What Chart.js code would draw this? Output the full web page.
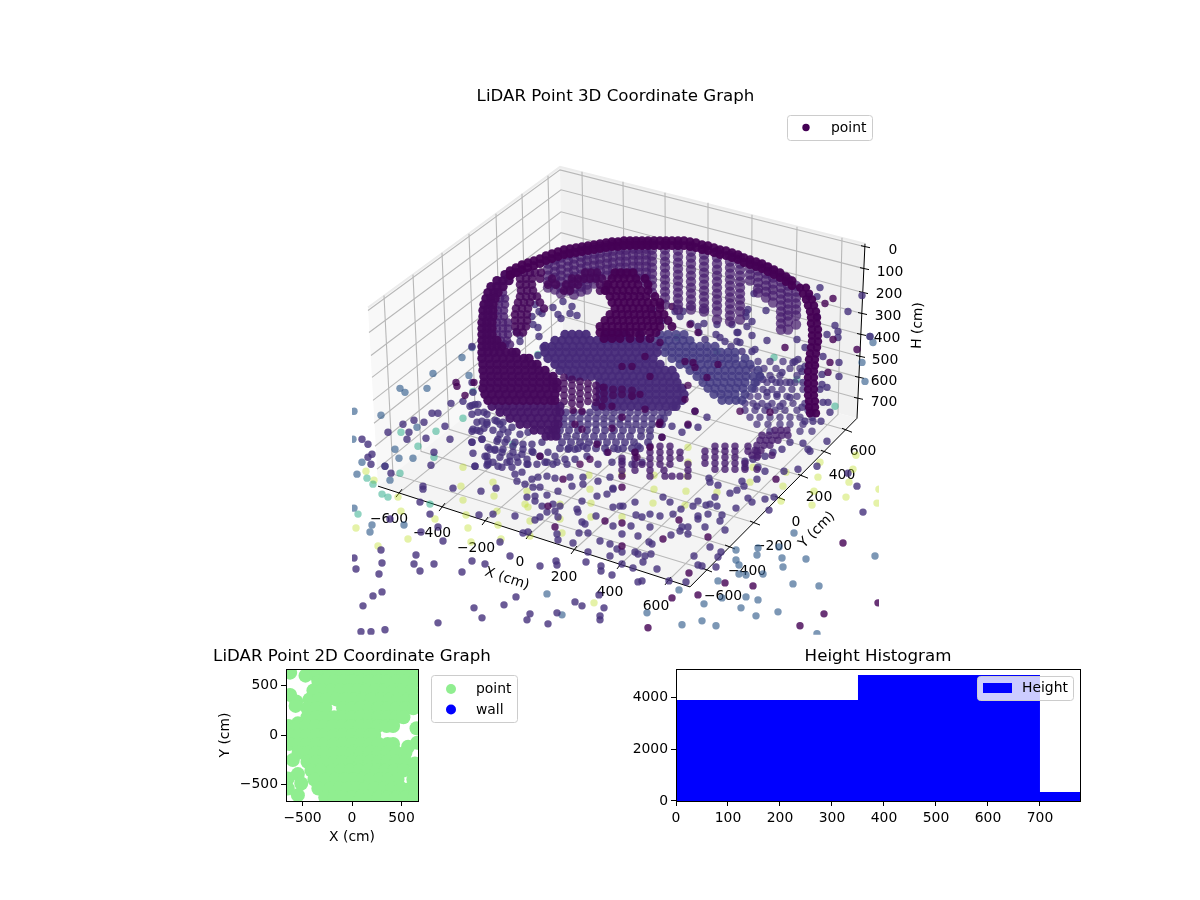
<!DOCTYPE html>
<html>
<head>
<meta charset="utf-8">
<title>LiDAR Point Graphs</title>
<script src="https://cdn.jsdelivr.net/npm/chart.js@4/dist/chart.umd.min.js"></script>
<style>
body{margin:0;background:#fff}
canvas{position:absolute}
#c3d{left:0;top:0}
#c2d{left:182px;top:640px}
#chist{left:630px;top:640px}
</style>
</head>
<body>
<canvas id="c3d" width="1200" height="640"></canvas>
<canvas id="c2d" width="340" height="211"></canvas>
<canvas id="chist" width="496" height="211"></canvas>
<script>
// ---------- values ----------
// 3D panel: points read in the projected plane of the view, flat lists x,y,x,y...
const paleOuter=[378,547,408,540,356,529,366,472,374,481,398,498,401,512,435,520,468,529,471,543,501,540,498,526,466,516,497,512,463,501,494,497,461,487,493,483,463,468,525,505,528,508,530,522,530,537,560,505,562,534,560,520,591,504,591,518,590,490,589,476,594,604,527,492,856,456,853,470,849,483,846,498,877,504,879,490,814,492,818,478,820,463,812,506,781,502,783,487,786,473,750,483,753,468,717,493,686,492,685,506,653,504,687,477,688,463,688,448,654,476,654,490,622,518,622,475];
const tealOuter=[401,433,436,432,418,447,434,458,463,419,400,474,367,479,373,485,382,495,388,498,358,515,430,505,513,445,835,407,774,358,797,380,677,338,717,352,473,392,538,355];
const blueOuter=[354,412,381,416,353,440,354,509,404,526,370,533,372,526,395,450,413,459,399,459,417,428,385,467,390,481,362,463,357,475,547,595,562,616,400,389,405,393,427,389,433,374,469,376,462,358,472,348,865,382,862,363,870,337,873,343,875,557,806,560,793,585,819,587,778,613,756,617,741,609,746,598,758,601,718,582,722,599,704,605,679,591,647,614,682,626,702,622,716,627,817,635,736,551,758,549,757,556,736,561,739,575,746,576,763,575,783,568,782,559,779,548,794,534,739,566];
const floorMid=[354,559,356,570,379,575,382,564,381,551,414,565,416,556,420,572,434,565,462,573,472,562,485,565,500,543,510,557,540,567,556,562,557,566,586,563,601,567,601,572,516,598,504,606,474,609,482,619,438,624,382,593,373,597,363,607,385,631,371,633,361,633,527,621,530,615,557,614,548,625,575,603,582,607,604,609,600,617,600,621,599,596,362,440,368,445,372,455,368,458,371,465,385,467,391,474,407,440,388,433,409,433,403,425,414,421,424,423,432,414,438,414,451,404,445,427,426,439,450,440,434,453,431,466,423,487,423,490,453,489,481,492,496,489,420,503,430,515,390,520,421,533,438,528,443,542,479,516,493,515,515,517,523,534,528,533,463,402,472,406,478,405,484,413,472,415,477,423,487,423,495,421,503,423,512,428,472,432,477,431,484,429,493,431,500,435,507,440,482,440,472,443,497,442,513,447,523,450,533,453,490,450,495,451,502,453,510,457,473,454,485,457,517,458,527,460,540,457,547,463,557,463,567,465,488,462,493,463,502,468,507,463,512,468,475,467,487,466,515,475,522,473,528,465,532,480,538,478,547,477,555,479,570,478,583,478,517,482,525,485,533,488,540,488,558,492,572,487,583,485,598,482,610,478,535,497,527,498,547,496,535,502,553,505,560,507,542,507,597,497,607,495,582,502,613,490,540,518,547,513,555,512,535,521,558,518,577,510,578,513,582,523,585,525,596,517,613,508,620,507,613,527,557,535,558,541,573,544,579,534,588,534,588,553,600,542,610,545,617,550,695,412,707,418,698,428,688,426,682,433,672,427,662,438,769,511,774,498,765,500,752,503,748,499,736,509,717,507,715,498,710,505,706,506,698,502,693,507,681,510,670,503,663,498,673,515,660,517,650,515,642,518,636,516,635,503,623,507,613,489,631,527,650,528,638,537,622,535,671,536,682,528,688,528,680,532,688,535,698,517,708,515,698,520,722,516,720,522,725,531,705,528,710,548,694,557,721,553,718,558,698,566,702,567,716,568,686,583,669,582,657,570,651,555,645,557,643,563,638,555,635,553,622,553,622,565,633,569,638,583,642,582,649,543,652,545,612,576,610,557,742,482,744,487,737,491,730,494,718,486,710,483,709,479,757,480,765,472,758,468,745,468,798,470,784,472,803,444,817,467,810,452,808,450,827,442,821,422,830,413,813,422,805,422,790,443,782,450,773,453,765,457,753,460,745,462,863,513,857,487,848,474,820,288,809,297,817,297,862,296,848,312,817,317,835,326,827,335,838,332,838,338,870,337,823,357,839,363,839,377,822,375,822,385,827,388,828,403,823,403,820,390,754,294,766,311,752,322,746,313,737,333,752,336,767,341,720,338,725,342,737,342,731,347,752,352,755,350,742,352,798,360,805,348,797,340,802,372,805,367,793,363,782,373,803,383,790,383,780,383,772,380,763,380,767,393,777,395,790,398,802,408,812,413,780,407,768,407,757,407,748,310,746,317,747,327,738,333,740,343,732,325,717,325,716,335,704,324,691,324,698,327,699,333,680,317,662,321,653,310,675,312,683,312,705,340,516,332,535,305,539,312,542,314,553,308,558,315,561,319,532,317,533,325,538,328,539,337,570,314,577,316,563,302,572,307,543,348,538,356,472,347,520,336,520,342];
const nearFront=[475,405,470,407,478,413,487,415,482,422,497,422,500,425,487,425,473,430,480,432,503,430,508,433,520,435,528,433,498,440,515,443,523,445,532,445,542,443,505,443,482,440,488,448,472,443,495,450,503,450,513,453,522,455,532,452,548,453,555,457,487,457,500,458,510,462,518,463,527,465,537,465,545,463,553,465,488,465,498,467,475,467,568,450,575,450,583,447,565,460,575,460,587,457,598,465,612,463,622,462,632,465,642,463,607,453,618,450,638,447,472,383,473,393];
const rightCloudRows=[[362,758,770,783,795],[369,752,764,776,790,800],[376,760,770,780,797],[383,757,767,776,786,795],[390,755,763,772,782,792,803],[397,750,758,767,777,787,797],[404,745,753,762,772,783,793,805],[411,745,755,765,775,785,797,808],[418,750,760,770,780,790,800,812],[425,757,768,780,790,803],[432,770,800,812]];
const floorDark=[456,383,457,387,465,396,474,383,660,425,622,488,622,477,622,524,663,540,679,521,708,538,622,547,689,574,776,480,725,584,753,587,698,596,672,599,648,629,824,615,800,627,878,604,843,544,833,299,825,304,833,340,857,350,830,363,828,373,785,348,660,306,672,307,555,528,605,522,563,480,548,507];
const floorClusters=[[431,775,781,787],[436,762,769,776,782,788],[441,760,766,772,778],[446,757,764,770],[451,755,761],[456,752,758,772],[447,650,660,670,715,725,735,748],[452,705,715,725,735,748,757],[453,635,650,660,670,680],[458,705,715,725,735,757],[459,622,635,650,660,670,680],[464,705,715,725,735,745],[465,622,635,642,650,660,670,688],[470,715,725,735,745,757],[471,622,635,650,664,688],[477,650,665,672,680,688]];
const bowlRows=[[335,565,572,579,586,605,612,619,626,640],[341,555,562,569,576,583,590,597,604,611,618,625,632,639,646],[347,545,552,559,566,573,580,587,594,601,608,615,622,629,636,643,650,657],[353,545,552,559,566,573,580,587,594,601,608,615,622,629,636,643,650,657],[359,548,555,562,569,576,583,590,597,604,611,618,625,632,639,646,653],[365,555,562,569,576,583,590,597,604,611,618,625,632,639,646,653,660],[371,560,567,574,581,588,595,602,609,616,623,630,637,644,651,658,665,672],[377,570,577,584,591,598,605,612,619,626,633,640,647,654,661,668,675],[383,600,607,614,621,628,635,642,649,656,663,670,677],[389,600,607,614,621,628,635,642,649,656,663,670,677,682],[395,600,607,614,621,628,635,642,649,656,663,670,677,684],[401,600,607,614,621,628,635,642,649,656,663,670,677,682],[407,596,603,610,617,624,631,638,645,652,659,666,673,676]];
const bowlLowRows=[[413,566,574,582,590,598,606,614,622,630,638,646,654,662,668],[419,564,572,580,588,596,604,612,620,628,636,644,652,660,664],[425,564,572,580,588,596,604,612,620,628,636,644,652,662],[431,560,569,578,587,596,605,614,623,632,641,650],[437,558,567,576,585,594,603,612,621,630,641,650],[443,562,571,580,589,598,607,616,625,634,648],[449,560,569,578,587,596,605,614,623,632,640]];
const wedgeRows=[[335,660,668,676,684],[341,655,662,669,676,683,690],[347,665,672,679,686,693,700,707,715],[353,665,672,679,686,693,700,707,714,721,728,735],[359,672,679,686,693,700,707,714,721,728,735,745],[365,680,687,694,701,708,715,722,729,736,743,750],[371,690,697,704,711,718,725,732,739,746,758],[377,697,704,711,718,725,732,739,746,753,760],[383,703,710,717,724,731,738,745,755],[389,708,715,722,729,736,743,752],[395,714,721,728,735,745],[401,722,729,736,742]];
const backWallCols=[[548,264,270,276,282,288],[555,260,266,272,278,284,290],[561,258,264,270,276,282,288,294],[568,255,261,267,273,279,285,291],[574,253,259,265,271,277,283,289,295],[581,251,257,263,269,275,281,287,292],[587,249,255,261,267,273,279,285,290],[594,248,254,260,266,272,278,284],[600,247,253,259,265,271,277],[607,246,252,258,264,270,276],[613,245,251,257,263,269,275],[620,244,250,256,262,268,274],[626,244,250,256,262,268,274],[633,243,249,255,261,267,273],[639,243,249,255,261,267,273,279],[646,243,249,255,261,267,273,279,285],[652,244,250,256,262,268,274,280,286,293],[665,244,250,256,262,268,274,280,286,292,298,305],[678,245,251,257,263,269,275,281,287,293,299,305,310],[691,246,252,258,264,270,276,282,288,294,300,306,310],[704,249,255,261,267,273,279,285,291,297,303,309,312],[717,252,258,264,270,276,282,288,294,300,306,312,320],[730,256,262,268,274,280,286,292,298,304,310,316,322],[740,258,264,270,276,282,288,294,300,306,312,320],[750,263,269,275,281],[758,265,271,277,283,289,293],[766,268,274,280,286,292,298],[773,272,278,284,290,296,303],[781,276,282,288,294,300,306,312,318,324,330],[788,280,286,292,298,304,310,316,322,330],[796,286,292,298,304,310,316,325]];
const rimCols=[[510,271,276],[516,268,273],[522,265,270],[528,263,268],[534,261,266],[540,259,264],[546,256,261],[552,254,259],[558,252,257],[564,250,255],[570,249,254],[576,248,253],[582,247,252],[588,246,251],[594,245,250],[600,244,249],[606,243,248],[612,242,247],[618,242,247],[624,241,246],[630,241,246],[636,241,246],[642,241,246],[648,241,246],[654,241,246],[660,241,246],[666,241,246],[672,241,246],[678,241,246],[684,241,246],[690,242,247],[696,243,248],[702,245,250],[708,246,251],[714,248,253],[720,250,255],[726,251,256],[732,253,258],[738,255,260],[744,258,263],[750,260,265],[756,262,267],[762,264,269],[768,267,272],[774,270,275],[780,273,278],[786,277,282],[792,281,286]];
const rimRightRows=[[288,800,806],[294,803,809],[300,806,812],[306,808,814],[312,810,816],[318,811,817],[324,811,817],[330,812,818],[336,812,818],[342,812,818],[348,811,817],[354,810,816],[360,809,815],[366,809,815],[372,808,814],[378,808,814],[384,808,814],[390,808,814],[396,808,814],[402,809,815],[408,809,815],[414,810,816]];
const innerBandRows=[[293,503],[299,500,505],[305,499,505],[311,498,504],[317,498,504],[323,497,503,508],[329,497,503,508],[335,497,503,508],[341,501,507],[345,505,510]];
const frontWallRows=[[275,505,511],[281,497,503,509],[287,491,497,503],[293,488,494,498],[299,486,491,495],[305,484,489,493],[311,483,488,493],[317,483,488,493],[323,482,487,492],[329,482,487,492],[335,482,487,492],[341,482,487,492,497],[347,482,487,492,497,502],[353,482,488,494,500,506,512,516],[359,482,489,496,503,510,517,524,529],[365,483,490,497,504,511,518,525,532,537],[371,483,490,497,504,511,518,525,532,539,545],[377,484,491,498,505,512,519,526,533,540,547,553],[383,484,491,498,505,512,519,526,533,540,547,553,557],[389,483,490,497,504,511,518,525,532,539,546,553,557],[395,485,492,499,506,513,520,527,534,541,548,555],[401,488,495,502,509,516,523,530,537,544,551,555]];
const frontColumns=[[564,378,384,390,396,402],[572,380,386,392,398,404],[580,382,388,394,400,405],[588,384,390,396,402],[596,386,392,398,403],[604,388,394,400],[613,390,396],[622,390,395],[632,391,396]];
const frontLowRows=[[407,492,499,506,513,520,527,534,541,548,555,560],[413,500,507,514,521,528,535,542,549,556,560],[419,510,517,524,531,538,545,552,558],[425,520,527,534,541,548,555,558],[431,534,541,548,553,556],[437,546,551,556]];
const towerRows=[[273,615,621,627,633],[279,612,618,624,630,636,645],[285,608,614,620,626,632,638,648],[291,605,611,617,623,629,635,641,648],[297,610,616,622,628,634,640,646,655],[303,612,618,624,630,636,642,648,654,660],[309,615,621,627,633,639,645,651,660],[315,610,616,622,628,634,640,646,652,658,664],[321,605,611,617,623,629,635,641,647,653,659,668],[327,600,606,612,618,624,630,636,642,648,654,660,672],[333,600,606,612,618,624,630,636,642,650,656],[339,604,612,620,630,640,650]];
const pillarRows=[[273,518,524,530,535,541,585,591,597],[279,520,526,532,540,552,572,578,584,590,596,602],[285,520,526,532,548,556,566,572,578,600,606],[291,521,527,533,564,570,600,606],[297,520,526,532,537],[303,518,524,530,540],[309,516,522,528,544],[315,515,521,527],[321,515,521,527],[327,515,521,526],[333,517,523]];
const darkSpots=[632,367,645,357,660,343,690,325,698,333,707,378,685,362,640,395,645,410,695,412,632,397,622,367,650,377,660,423,688,425,659,425,662,438,650,448,685,400,688,386,718,365,693,363,695,368,740,412,770,413,597,445,612,429,622,418,582,430,575,425,580,465,590,460,608,453,635,453,637,458,540,457,573,411,582,412,602,407,612,407,603,388];

// 3D panel tick labels
const xTicks3d=[-600,-400,-200,0,200,400,600];
const yTicks3d=[-600,-400,-200,0,200,400,600];
const hTicks3d=[0,100,200,300,400,500,600,700];

// 2D panel: rows of [Y (cm), X (cm), X (cm), ...]
const wallXY=[];
const point2dRows=[
[630,-625,-430,-270,-180,-90,0,90,180,270,360,450,540,630],
[600,-470,-360],
[540,-340,-270,-180,-90,0,90,180,270,360,450,540,630],
[450,-390,-300,-210,-120,-30,60,150,240,330,420,510,600],
[405,-625],
[360,-430,-340,-250,-160,-70,20,110,200,290,380,470,560,630],
[338,-564],
[294,-570],
[270,-450,-360,-270,-90,0,90,180,270,360,450,540,620],
[180,-450,-360,-270,-180,-90,0,90,180,270,360,450,520],
[118,-547],
[90,-640,-550,-460,-370,-280,-190,-100,-10,80,170,260,350,415],
[68,652],
[0,-630,-540,-450,-360,-270,-180,-90,0,90,180,225],
[-78,659],
[-90,-630,-540,-450,-360,-270,-180,-90,0,90,180,270,360,415],
[-118,567],
[-180,-540,-450,-360,-270,-180,-90,0,90,180,270,360,450,540],
[-253,-598],
[-270,-450,-360,-270,-180,-90,0,90,180,270,360,450,540],
[-287,635],
[-360,-410,-320,-200,-110,-20,70,160,250,340,430,520,640],
[-395,-547],
[-439,-649],
[-450,-380,-260,-170,-80,10,100,190,280,370,460,620],
[-490,-513],
[-540,-649,-340,-220,-130,-40,50,140,230,320,410,500,590,650],
[-608,-547],
[-630,-270,-180,-90,0,90,180,270,360,450,540,630]
];
const xTicks2d=[-500,0,500];
const yTicks2d=[-500,0,500];

// histogram bins
const binEdges=[0,350,700,777];
const binCounts=[3885,4846,346];
const xTicksHist=[0,100,200,300,400,500,600,700];
const yTicksHist=[0,2000,4000];

// ---------- helpers ----------
const FONT='"DejaVu Sans"';
Chart.defaults.font.family=FONT;
Chart.defaults.font.size=13.9;
Chart.defaults.color='#000';
Chart.defaults.animation=false;

const viridisStops=[[68,1,84],[72,36,117],[65,68,135],[53,95,141],[42,120,142],[33,145,140],[34,168,132],[68,191,112],[122,209,81],[189,223,38],[253,231,37]];
function viridis(level,alpha){
    const p=level*10, i=Math.min(Math.floor(p),9), t=p-i;
    const c=viridisStops[i].map((v,k)=>Math.round(v+(viridisStops[i+1][k]-v)*t));
    return 'rgba('+c[0]+','+c[1]+','+c[2]+','+alpha+')';
}
function fromFlat(a){ const r=[]; for(let i=0;i<a.length;i+=2) r.push({x:a[i],y:a[i+1]}); return r; }
function fromRows(rows){ const r=[]; rows.forEach(row=>row.slice(1).forEach(v=>r.push({x:v,y:row[0]}))); return r; }
function fromCols(cols){ const r=[]; cols.forEach(col=>col.slice(1).forEach(v=>r.push({x:col[0],y:v}))); return r; }
const minus=v=>String(v).replace('-','\u2212');

// paint order: first is furthest back [points, colour level, alpha, radius]
const groups3d=[
    [fromFlat(paleOuter),0.9,0.4,3.7],
    [fromFlat(tealOuter),0.6,0.5,3.7],
    [fromFlat(blueOuter),0.3,0.65,3.7],
    [fromFlat(floorMid),0.14,0.8,3.7],
    [fromFlat(nearFront),0.14,0.8,3.7],
    [fromRows(rightCloudRows),0.14,0.72,3.7],
    [fromFlat(floorDark),0.0,0.8,3.7],
    [fromRows(floorClusters),0.08,0.8,3.7],
    [fromCols(backWallCols),0.08,0.72,5.2],
    [fromRows(bowlLowRows),0.14,0.8,3.9],
    [fromRows(wedgeRows),0.17,0.85,4.6],
    [fromRows(bowlRows),0.12,0.95,4.7],
    [fromRows(pillarRows),0.02,0.85,4.3],
    [fromRows(towerRows),0.0,0.92,4.5],
    [fromFlat(darkSpots),0.0,0.75,3.7],
    [fromRows(innerBandRows),0.08,0.8,4.3],
    [fromCols(frontColumns),0.03,0.8,3.9],
    [fromRows(frontLowRows),0.06,0.95,4.6],
    [fromRows(frontWallRows),0.02,0.97,4.7],
    [fromCols(rimCols),0.0,0.95,4.4],
    [fromRows(rimRightRows),0.0,0.95,4.2]
];

// view box of the 3D panel, in the same projected plane
const box={
    leftTop:[368,308],backTop:[560,167],rightTop:[865,244],
    leftFloor:[378,487],backFloor:[563,338],rightFloor:[857,419],frontFloor:[690,588],
    xFront:[[399,494],[442,508],[485,522],[529,536],[574,551],[620,566],[668,582]],
    xBack:[[585,344],[625,355],[666,367],[708,378],[751,390],[794,402],[838,415]],
    xTop:[[582,172],[623,182],[665,193],[708,203],[752,215],[797,227],[842,238]],
    yFront:[[707,571],[730,548],[755,524],[780,499],[803,477],[826,453],[847,431]],
    yLeft:[[393,475],[421,452],[449,430],[475,409],[501,388],[526,368],[552,347]],
    yTop:[[384,296],[413,275],[442,253],[469,234],[496,214],[522,194],[548,176]],
    hLeft:[[368,311],[369,333],[371,356],[372,378],[373,401],[374,424],[375,447],[377,470]],
    hBack:[[560,170],[561,190],[561,212],[561,233],[562,254],[562,275],[562,296],[563,317]],
    hRight:[[865,247],[864,269],[863,293],[862,314],[861,335],[860,357],[859,378],[858,399]],
    xLabels:[[389,520],[432,534],[476,549],[520,563],[564,578],[610,593],[656,608]],
    yLabels:[[723,598],[747,572],[773,547],[796,523],[819,498],[842,476],[863,452]],
    hLabels:[[893,251],[890,273],[889,295],[888,317],[887,339],[885,361],[884,382],[884,403]]
};

const boxPlugin={
    id:'box3d',
    beforeDatasetsDraw(chart){
        const c=chart.ctx, sx=chart.scales.x, sy=chart.scales.y;
        const px=p=>[sx.getPixelForValue(p[0]),sy.getPixelForValue(p[1])];
        function poly(pts,fill){
            c.beginPath();
            pts.forEach((p,i)=>{const q=px(p); i?c.lineTo(q[0],q[1]):c.moveTo(q[0],q[1]);});
            c.closePath(); c.fillStyle=fill; c.fill();
        }
        function line(pts,col,w){
            c.beginPath();
            pts.forEach((p,i)=>{const q=px(p); i?c.lineTo(q[0],q[1]):c.moveTo(q[0],q[1]);});
            c.strokeStyle=col; c.lineWidth=w; c.stroke();
        }
        c.save();
        poly([box.leftTop,box.backTop,box.backFloor,box.leftFloor],'#f8f8f8');
        poly([box.backTop,box.rightTop,box.rightFloor,box.backFloor],'#f1f1f1');
        poly([box.leftFloor,box.backFloor,box.rightFloor,box.frontFloor],'#f4f4f4');
        line([box.leftTop,box.backTop,box.rightTop],'#ececec',2);
        const grid='#b8b8b8';
        xTicks3d.forEach((v,i)=>line([box.xFront[i],box.xBack[i],box.xTop[i]],grid,1.1));
        yTicks3d.forEach((v,i)=>line([box.yFront[i],box.yLeft[i],box.yTop[i]],grid,1.1));
        hTicks3d.forEach((v,i)=>line([box.hLeft[i],box.hBack[i],box.hRight[i]],grid,1.1));
        // axis lines
        line([box.leftFloor,box.frontFloor,box.rightFloor,box.rightTop],'#000',1);
        // tick marks
        xTicks3d.forEach((v,i)=>{const a=box.xFront[i]; line([[a[0]-3,a[1]+4],[a[0]+3,a[1]-4]],'#000',1);});
        yTicks3d.forEach((v,i)=>{const a=box.yFront[i]; line([[a[0]+5,a[1]+2],[a[0]-5,a[1]-2]],'#000',1);});
        hTicks3d.forEach((v,i)=>{const a=box.hRight[i]; line([[a[0]-4,a[1]-1],[a[0]+5,a[1]+1]],'#000',1);});
        // tick labels
        c.fillStyle='#000'; c.font='13.9px '+FONT; c.textAlign='center'; c.textBaseline='middle';
        xTicks3d.forEach((v,i)=>{const q=px(box.xLabels[i]); c.fillText(minus(v),q[0],q[1]);});
        yTicks3d.forEach((v,i)=>{const q=px(box.yLabels[i]); c.fillText(minus(v),q[0],q[1]);});
        hTicks3d.forEach((v,i)=>{const q=px(box.hLabels[i]); c.fillText(minus(v),q[0],q[1]);});
        // axis titles
        [['X (cm)',507,580,18],['Y (cm)',817,531,-45],['H (cm)',918,326,-88]].forEach(t=>{
            const q=px([t[1],t[2]]);
            c.save(); c.translate(q[0],q[1]); c.rotate(t[3]*Math.PI/180); c.fillText(t[0],0,0); c.restore();
        });
        c.restore();
    }
};

// matplotlib style frame and legend box, options come per chart
const framePlugin={
    id:'mplFrame',
    afterDraw(chart,args,o){
        const c=chart.ctx, a=chart.chartArea;
        c.save();
        if(o.frame){
            c.strokeStyle='#000'; c.lineWidth=1;
            c.strokeRect(Math.round(a.left)+0.5,Math.round(a.top)+0.5,Math.round(a.right-a.left),Math.round(a.bottom-a.top));
        }
        if(o.legend){
            const l=o.legend, b=l.box;
            c.beginPath(); c.roundRect(b[0]+0.5,b[1]+0.5,b[2],b[3],3);
            c.fillStyle='rgba(255,255,255,0.8)'; c.fill();
            c.strokeStyle='#cccccc'; c.lineWidth=1; c.stroke();
            c.font='13.9px '+FONT; c.textAlign='left'; c.textBaseline='middle';
            l.items.forEach(it=>{
                c.fillStyle=it.color;
                if(it.swatch){ c.fillRect(it.swatch[0],it.y-5,it.swatch[1],10); }
                else { c.beginPath(); c.arc(it.mx,it.y,it.r,0,Math.PI*2); c.fill(); }
                c.fillStyle='#000'; c.fillText(it.label,it.tx,it.y+0.5);
            });
        }
        c.restore();
    }
};

// ---------- 3D panel ----------
new Chart(document.getElementById('c3d'),{
    type:'scatter',
    data:{datasets:groups3d.map((g,i)=>({
        label:'point',
        data:g[0],
        backgroundColor:viridis(g[1],g[2]),
        borderWidth:0,
        pointRadius:g[3],
        order:groups3d.length-i
    }))},
    options:{
        responsive:false,
        layout:{padding:{left:352,right:321,top:0,bottom:4}},
        scales:{
            x:{type:'linear',display:false,min:352,max:879},
            y:{type:'linear',display:false,min:110,max:636,reverse:true}
        },
        plugins:{
            legend:{display:false},
            tooltip:{enabled:false},
            title:{display:true,text:'LiDAR Point 3D Coordinate Graph',font:{size:16.67,weight:'normal',lineHeight:1.2},padding:{top:87,bottom:3},color:'#000'},
            mplFrame:{legend:{box:[787,115,85,25],items:[{label:'point',color:'#440154',mx:806,y:127.5,r:3.7,tx:831}]}}
        }
    },
    plugins:[boxPlugin,framePlugin]
});

// ---------- 2D panel ----------
new Chart(document.getElementById('c2d'),{
    type:'scatter',
    data:{datasets:[
        {label:'point',data:fromRows(point2dRows),backgroundColor:'#90ee90',borderWidth:0,pointRadius:7},
        {label:'wall',data:wallXY,backgroundColor:'#0000ff',borderWidth:0,pointRadius:7}
    ]},
    options:{
        responsive:false,
        scales:{
            x:{type:'linear',min:-667,max:667,
                afterBuildTicks:s=>{s.ticks=xTicks2d.map(v=>({value:v}));},
                afterFit:s=>{s.height=50;},
                ticks:{callback:minus,maxRotation:0,padding:4,font:{size:13.9}},
                grid:{drawOnChartArea:false,tickLength:5,tickColor:'#000'},
                border:{display:false},
                title:{display:true,text:'X (cm)',font:{size:13.9},padding:{top:0,bottom:5}}},
            y:{type:'linear',min:-667,max:667,
                afterBuildTicks:s=>{s.ticks=yTicks2d.map(v=>({value:v}));},
                afterFit:s=>{s.width=104;},
                ticks:{callback:minus,padding:3,font:{size:13.9}},
                grid:{drawOnChartArea:false,tickLength:5,tickColor:'#000'},
                border:{display:false},
                title:{display:true,text:'Y (cm)',font:{size:13.9},padding:{top:35,bottom:0}}},
            yRight:{type:'linear',position:'right',min:0,max:1,
                afterFit:s=>{s.width=104;},
                ticks:{display:false},grid:{display:false},border:{display:false}}
        },
        plugins:{
            legend:{display:false},
            tooltip:{enabled:false},
            title:{display:true,text:'LiDAR Point 2D Coordinate Graph',font:{size:16.67,weight:'normal',lineHeight:1.2},padding:{top:7,bottom:2},color:'#000'},
            mplFrame:{frame:true,legend:{box:[249,35,86,47],items:[
                {label:'point',color:'#90ee90',mx:269,y:49,r:5,tx:294},
                {label:'wall',color:'#0000ff',mx:269,y:69.5,r:5,tx:294}
            ]}}
        }
    },
    plugins:[framePlugin]
});

// ---------- histogram ----------
const histPoints=binCounts.map((v,i)=>({x:binEdges[i],y:v}));
histPoints.push({x:binEdges[binEdges.length-1],y:binCounts[binCounts.length-1]});
new Chart(document.getElementById('chist'),{
    type:'line',
    data:{datasets:[{label:'Height',data:histPoints,stepped:'before',fill:'origin',backgroundColor:'#0000ff',borderWidth:0,pointRadius:0}]},
    options:{
        responsive:false,
        scales:{
            x:{type:'linear',min:0,max:777,
                afterBuildTicks:s=>{s.ticks=xTicksHist.map(v=>({value:v}));},
                afterFit:s=>{s.height=50;},
                ticks:{maxRotation:0,padding:4,font:{size:13.9}},
                grid:{drawOnChartArea:false,tickLength:5,tickColor:'#000'},
                border:{display:false}},
            y:{type:'linear',min:0,max:5077,
                afterBuildTicks:s=>{s.ticks=yTicksHist.map(v=>({value:v}));},
                afterFit:s=>{s.width=46;},
                ticks:{padding:3,font:{size:13.9},callback:v=>String(v)},
                grid:{drawOnChartArea:false,tickLength:5,tickColor:'#000'},
                border:{display:false}},
            yRight:{type:'linear',position:'right',min:0,max:1,
                afterFit:s=>{s.width=46;},
                ticks:{display:false},grid:{display:false},border:{display:false}}
        },
        plugins:{
            legend:{display:false},
            tooltip:{enabled:false},
            title:{display:true,text:'Height Histogram',font:{size:16.67,weight:'normal',lineHeight:1.2},padding:{top:7,bottom:2},color:'#000'},
            mplFrame:{frame:true,legend:{box:[347,36,96,24],items:[{label:'Height',color:'#0000ff',swatch:[353,29],y:48,tx:392}]}}
        }
    },
    plugins:[framePlugin]
});
</script>
</body>
</html>
